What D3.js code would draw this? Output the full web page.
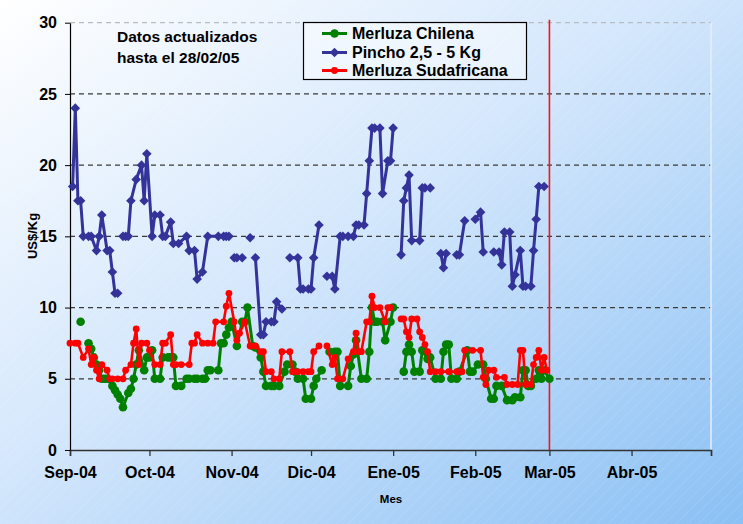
<!DOCTYPE html>
<html>
<head>
<meta charset="utf-8">
<script src="https://cdn.jsdelivr.net/npm/d3@7"></script>
<style>
  body { margin: 0; padding: 0; overflow: hidden; }
  text { font-family: "Liberation Sans", Arial, sans-serif; font-weight: bold; fill: #000; }
</style>
</head>
<body>
<div id="chart"></div>
<script>
var svgWidth = 743;
var svgHeight = 524;

// dias contados desde el 01/09/2004 (null = sin dato, corta la linea)
var chilenaDia = [4,5,7,8,9,10,11,12,13,14,16,17,18,19,20,22,23,24,25,26,28,29,30,31,32,34,35,37,38,39,40,42,44,45,47,48,50,51,52,53,56,57,58,59,60,61,63,65,66,67,69,70,72,73,74,76,77,79,81,82,84,85,86,88,89,91,92,93,95,96,98,100,101,102,105,106,107,108,110,112,113,114,115,116,118,119,121,122,124,126,127,128,129,130,132,133,135,136,138,140,141,142,143,144,146,147,150,151,152,154,156,157,159,160,161,163,165,167,168,170,171,172,173,174,176,177,178,179,181];
var chilenaVal = [9.0,null,7.5,7.1,6.5,6.0,5.6,5.0,5.0,5.0,4.5,4.2,3.9,3.6,3.0,4.0,4.3,5.0,6.0,7.0,5.6,6.5,6.5,7.0,5.0,5.0,6.5,6.5,6.5,6.5,4.5,4.5,5.0,5.0,5.0,5.0,5.0,5.0,5.6,5.6,5.6,7.5,7.5,8.1,8.6,9.0,7.3,9.0,9.0,10.0,7.3,7.2,6.5,5.5,4.5,4.5,4.5,4.5,5.5,6.0,6.0,5.5,5.0,5.0,3.6,3.6,4.5,5.0,5.6,null,6.9,6.9,6.9,4.5,4.5,5.9,6.7,7.7,5.0,5.0,6.9,10.0,9.0,9.0,9.0,7.7,9.0,10.0,null,5.5,6.9,7.4,6.9,5.5,5.5,7.0,6.4,6.5,5.0,5.0,6.9,7.4,7.4,5.0,5.0,5.5,7.0,5.5,5.5,6.0,6.0,5.0,3.6,3.6,4.5,4.5,3.5,3.5,3.7,3.7,5.6,5.6,4.5,4.5,5.0,5.6,5.0,5.6,5.0];

var pinchoDia = [1,2,3,4,5,7,8,10,11,12,14,15,16,17,18,19,20,21,22,23,25,27,28,29,31,32,34,35,36,38,39,41,44,45,47,48,50,52,56,58,59,60,61,62,63,65,66,68,69,70,72,73,74,76,77,78,80,81,83,86,87,88,90,91,92,94,95,97,99,100,102,103,105,107,108,109,111,112,113,114,115,117,118,120,121,122,123,125,126,127,128,129,132,133,134,136,137,140,141,142,144,146,147,149,151,153,155,156,158,160,162,163,164,166,167,168,170,171,172,174,175,176,177,179];
var pinchoVal = [18.5,24,17.5,17.5,15,15,15,14,15,16.5,14,14,12.5,11,11,null,15,15,15,17.5,19,20,17.5,20.8,15,16.5,16.5,15,15,16,14.5,14.5,15,14,14,12,12.5,15,15,15,15,15,null,13.5,13.5,13.5,null,14.9,null,13.5,8.1,8.1,9,9,9,10.4,9.9,null,13.5,13.5,11.3,11.3,11.3,11.3,13.5,15.8,null,12.2,12.2,11.3,15,15,15,15,15.8,15.8,15.8,18,20.3,22.6,22.6,22.6,18,20.3,20.3,22.6,null,13.7,17.5,18.4,19.3,14.7,14.7,18.4,18.4,18.4,null,13.8,12.8,13.8,null,13.7,13.7,16.1,null,16.2,16.7,13.9,null,13.9,13.9,13,15.3,15.3,11.5,12.3,14,11.5,11.5,11.5,14,16.2,18.5,18.5];

var sudafDia = [0,2,3,5,7,8,9,10,11,12,14,15,16,18,20,21,23,24,25,26,27,29,30,32,34,35,36,38,39,40,42,45,46,47,48,50,52,54,55,58,59,60,62,63,64,66,68,70,72,73,74,76,77,79,80,83,84,86,88,90,91,92,94,95,97,99,100,101,103,105,107,108,109,110,112,113,114,115,117,119,120,121,123,125,126,127,128,129,131,132,133,134,135,136,138,140,143,146,148,149,152,155,156,157,158,160,161,164,165,167,169,170,171,172,174,175,176,177,178,179,180];
var sudafVal = [7.5,7.5,7.5,6.5,7.1,6.0,6.5,5.6,5.0,6.0,5.6,5.0,5.0,5.0,5.0,5.6,6.0,7.5,8.5,6.0,7.5,7.5,7.0,6.0,6.0,7.5,7.5,8.1,6.0,6.0,6.0,6.0,7.5,7.5,8.1,7.5,7.5,7.5,9.0,9.0,10.1,11.0,9.0,7.7,8.2,9.0,7.3,7.3,6.9,6.9,5.5,5.5,5.0,5.0,6.9,6.9,5.5,5.5,5.5,5.5,5.5,6.9,7.3,null,7.3,6.0,6.5,5.0,5.0,6.4,6.9,8.2,6.9,6.9,9.0,9.0,10.8,10.0,10.0,9.0,10.0,10.0,null,9.2,9.2,8.3,7.9,9.2,9.2,8.3,7.9,7.4,6.9,5.5,5.5,5.5,5.5,5.5,5.5,7.0,7.0,7.0,5.1,4.6,5.6,5.6,5.1,5.1,4.6,4.6,4.6,7.0,7.0,4.6,4.6,6.0,6.5,7.0,5.6,6.5,5.6];

var serieNombres = ["Merluza Chilena", "Pincho 2,5 - 5 Kg", "Merluza Sudafricana"];
var serieColores = ["#008000", "#333399", "#ff0000"];
var mesLabels = ["Sep-04", "Oct-04", "Nov-04", "Dic-04", "Ene-05", "Feb-05", "Mar-05", "Abr-05"];
var yTicks = [0, 5, 10, 15, 20, 25, 30];
var fechaInicio = new Date(2004, 8, 1);
var fechaFin = new Date(2005, 4, 1);
var fechaCorte = new Date(2005, 2, 1);

// plot area
var margin = {top: 22.7, right: 32, bottom: 74, left: 70};
var width = svgWidth - margin.left - margin.right;
var height = svgHeight - margin.top - margin.bottom;

var svg = d3.select("#chart")
  .append("svg")
    .attr("width", svgWidth)
    .attr("height", svgHeight);

var defs = svg.append("defs");
var grad = defs.append("linearGradient")
  .attr("id", "fondo")
  .attr("x1", 0).attr("y1", 0).attr("x2", 1).attr("y2", 1);
grad.append("stop").attr("offset", "0%").attr("stop-color", "#ffffff");
grad.append("stop").attr("offset", "45%").attr("stop-color", "#d4e7fc");
grad.append("stop").attr("offset", "100%").attr("stop-color", "#8ac0f4");

var pat = defs.append("pattern")
  .attr("id", "rayas")
  .attr("width", 8).attr("height", 8)
  .attr("patternUnits", "userSpaceOnUse")
  .attr("patternTransform", "rotate(-45)");
pat.append("line")
  .attr("x1", 0).attr("y1", 0).attr("x2", 8).attr("y2", 0)
  .attr("stroke", "#ffffff").attr("stroke-width", 1).attr("stroke-opacity", 0.18);

svg.append("rect").attr("width", svgWidth).attr("height", svgHeight).attr("fill", "url(#fondo)");
svg.append("rect").attr("width", svgWidth).attr("height", svgHeight).attr("fill", "url(#rayas)");

var chartGroup = svg.append("g")
  .attr("transform", `translate(${margin.left}, ${margin.top})`);

// scales
var xTimeScale = d3.scaleTime()
  .domain([fechaInicio, fechaFin])
  .range([0, width]);

var yLinearScale = d3.scaleLinear()
  .domain([0, 30])
  .range([height, 0]);

// gridlines
chartGroup.selectAll(".grid")
  .data(yTicks.filter(d => d > 0))
  .enter()
  .append("line")
    .attr("x1", 0)
    .attr("x2", width)
    .attr("y1", d => yLinearScale(d))
    .attr("y2", d => yLinearScale(d))
    .attr("stroke", d => d == 30 ? "#b8bcc4" : "#3a3a3a")
    .attr("stroke-width", 1.2)
    .attr("stroke-dasharray", "5,4");

// right border of plot
chartGroup.append("line")
  .attr("x1", width).attr("x2", width)
  .attr("y1", 0).attr("y2", height)
  .attr("stroke", "#e4eefa")
  .attr("stroke-width", 1.5);

// axes
var xAxis = d3.axisBottom(xTimeScale)
  .ticks(d3.timeMonth.every(1))
  .tickSizeInner(6)
  .tickSizeOuter(6)
  .tickFormat((d, i) => mesLabels[i] || "");
var yAxis = d3.axisLeft(yLinearScale)
  .tickValues(yTicks)
  .tickSizeInner(5)
  .tickSizeOuter(0);

var xg = chartGroup.append("g")
  .attr("transform", `translate(0, ${height})`)
  .call(xAxis);
xg.select(".domain").attr("stroke", "#333").attr("stroke-width", 1.5);
xg.selectAll(".tick line").attr("stroke", "#333").attr("stroke-width", 1.3);
xg.selectAll(".tick text")
  .attr("y", 17)
  .attr("dy", "0.71em")
  .style("font-size", "16px")
  .style("font-family", "'Liberation Sans', Arial, sans-serif")
  .style("font-weight", "bold")
  .attr("fill", "#000");

var yg = chartGroup.append("g")
  .call(yAxis);
yg.select(".domain").attr("stroke", "#000").attr("stroke-width", 1.2);
yg.selectAll(".tick line").attr("stroke", "#000");
yg.selectAll(".tick text")
  .attr("x", -13)
  .style("font-size", "16px")
  .style("font-family", "'Liberation Sans', Arial, sans-serif")
  .style("font-weight", "bold")
  .attr("fill", "#000");

// fecha de corte
chartGroup.append("line")
  .attr("x1", xTimeScale(fechaCorte))
  .attr("x2", xTimeScale(fechaCorte))
  .attr("y1", -3)
  .attr("y2", height)
  .attr("stroke", "#ff1010")
  .attr("stroke-width", 1.6);

// build series
function armar(dias, vals) {
  return dias.map((d, i) => ({fecha: d3.timeDay.offset(fechaInicio, d), valor: vals[i]}));
}
var series = [armar(chilenaDia, chilenaVal), armar(pinchoDia, pinchoVal), armar(sudafDia, sudafVal)];

var line = d3.line()
  .defined(d => d.valor != null)
  .x(d => xTimeScale(d.fecha))
  .y(d => yLinearScale(d.valor));

var diamond = "M0,-4.8L4.8,0L0,4.8L-4.8,0Z";
var anchos = [3, 3, 2.6];

series.forEach(function(data, k) {
  chartGroup.append("path")
    .datum(data)
    .attr("fill", "none")
    .attr("stroke", serieColores[k])
    .attr("stroke-width", anchos[k])
    .attr("stroke-linejoin", "round")
    .attr("d", line);

  var pts = data.filter(d => d.valor != null);
  if (k == 1) {
    chartGroup.selectAll(".m" + k)
      .data(pts)
      .enter()
      .append("path")
        .attr("d", diamond)
        .attr("transform", d => `translate(${xTimeScale(d.fecha)}, ${yLinearScale(d.valor)})`)
        .attr("fill", serieColores[k]);
  } else {
    chartGroup.selectAll(".m" + k)
      .data(pts)
      .enter()
      .append("circle")
        .attr("cx", d => xTimeScale(d.fecha))
        .attr("cy", d => yLinearScale(d.valor))
        .attr("r", k == 0 ? 4.3 : 3.4)
        .attr("fill", serieColores[k]);
  }
});

// legend
var leg = svg.append("g");
leg.append("rect")
  .attr("x", 303.5).attr("y", 22.5)
  .attr("width", 223).attr("height", 57)
  .attr("fill", "#ffffff").attr("fill-opacity", 0.45)
  .attr("stroke", "#000").attr("stroke-width", 1.2);
var legY = [33.5, 52.5, 70.5];
serieNombres.forEach(function(n, i) {
  leg.append("line")
    .attr("x1", 322).attr("x2", 347)
    .attr("y1", legY[i]).attr("y2", legY[i])
    .attr("stroke", serieColores[i]).attr("stroke-width", 3);
  if (i == 1) {
    leg.append("path")
      .attr("d", diamond)
      .attr("transform", `translate(334.5, ${legY[i]})`)
      .attr("fill", serieColores[i]);
  } else {
    leg.append("circle")
      .attr("cx", 334.5).attr("cy", legY[i])
      .attr("r", i == 0 ? 4.3 : 3.4)
      .attr("fill", serieColores[i]);
  }
  leg.append("text")
    .attr("x", 352).attr("y", legY[i] + 5.5)
    .style("font-size", "16px")
    .text(n);
});

// annotation
svg.append("text").attr("x", 117).attr("y", 42).style("font-size", "15.5px").text("Datos actualizados");
svg.append("text").attr("x", 117).attr("y", 63).style("font-size", "15.5px").text("hasta el 28/02/05");

// axis titles
svg.append("text")
  .attr("x", 391).attr("y", 503)
  .attr("text-anchor", "middle")
  .style("font-size", "11.5px")
  .text("Mes");
svg.append("text")
  .attr("transform", "translate(37, 236) rotate(-90)")
  .attr("text-anchor", "middle")
  .style("font-size", "13px")
  .text("US$/Kg");
</script>
</body>
</html>
